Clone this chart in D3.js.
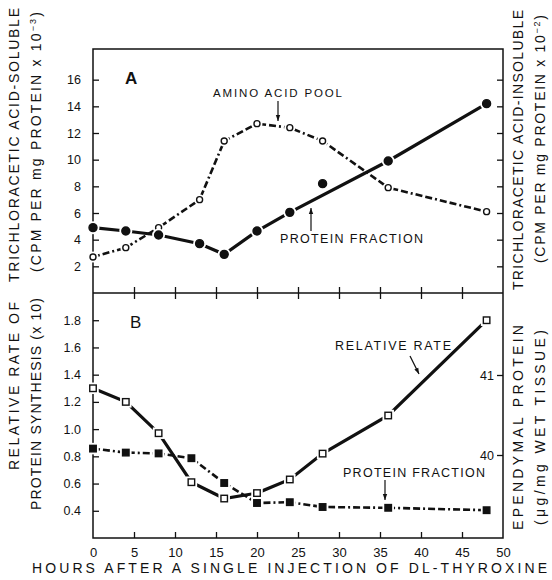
<!DOCTYPE html>
<html>
<head>
<meta charset="utf-8">
<script src="https://cdn.jsdelivr.net/npm/d3@7"></script>
<style>
  body { margin: 0; background: #fff; }
  svg { display: block; font-family: "Liberation Sans", "DejaVu Sans", sans-serif; }
</style>
</head>
<body>
<script>
// panel A : trichloracetic acid soluble pool / insoluble protein fraction
const hoursA = [0, 4, 8, 13, 16, 20, 24, 28, 36, 48];
const aminoPool = [2.7, 3.4, 4.9, 7.0, 11.4, 12.7, 12.4, 11.4, 7.9, 6.1];
const proteinA = [4.9, 4.65, 4.35, 3.7, 2.9, 4.65, 6.05, 8.2, 9.9, 14.2];
const proteinAOnLine = [true, true, true, true, true, true, true, false, true, true];

// panel B : relative rate of synthesis / ependymal protein
const hoursB = [0, 4, 8, 12, 16, 20, 24, 28, 36, 48];
const relRate = [1.30, 1.20, 0.97, 0.61, 0.49, 0.53, 0.63, 0.82, 1.10, 1.80];
const ependymal = [40.08, 40.03, 40.02, 39.96, 39.65, 39.40, 39.41, 39.35, 39.34, 39.31];

const xTicks = [0, 5, 10, 15, 20, 25, 30, 35, 40, 45, 50];
const yTicksA = [2, 4, 6, 8, 10, 12, 14, 16];
const yTicksB = [0.4, 0.6, 0.8, 1.0, 1.2, 1.4, 1.6, 1.8];
const yTicksR = [40, 41];

const W = 552, H = 580;
const svg = d3.select("body").append("svg").attr("width", W).attr("height", H);

const x = d3.scaleLinear().domain([0, 50]).range([93, 503]);
const yA = d3.scaleLinear().domain([0, 18.3]).range([293, 49]);
const yB = d3.scaleLinear().domain([0.2, 2.0]).range([538, 293]);
const yR = d3.scaleLinear().domain([40, 41]).range([455, 375]);

const ink = "#111";

// frame
svg.append("rect").attr("x", 93).attr("y", 49).attr("width", 410).attr("height", 489)
  .attr("fill", "none").attr("stroke", ink).attr("stroke-width", 1.5);
svg.append("line").attr("x1", 93).attr("x2", 503).attr("y1", 293).attr("y2", 293)
  .attr("stroke", ink).attr("stroke-width", 1.5);

function styleAxis(g) {
  g.select(".domain").remove();
  g.selectAll(".tick line").attr("stroke", ink).attr("stroke-width", 1.3);
  g.selectAll(".tick text").attr("fill", ink).attr("font-size", 12.5);
}

// left axes (ticks inward)
svg.append("g").attr("transform", "translate(93,0)")
  .call(d3.axisLeft(yA).tickValues(yTicksA).tickSize(-6).tickPadding(12).tickFormat(d3.format("d")))
  .call(styleAxis);
svg.append("g").attr("transform", "translate(93,0)")
  .call(d3.axisLeft(yB).tickValues(yTicksB).tickSize(-6).tickPadding(12).tickFormat(d3.format(".1f")))
  .call(styleAxis);

// right axes
svg.append("g").attr("transform", "translate(503,0)")
  .call(d3.axisRight(yA).tickValues(yTicksA).tickSize(-6).tickFormat(""))
  .call(styleAxis);
svg.append("g").attr("transform", "translate(503,0)")
  .call(d3.axisLeft(yR).tickValues(yTicksR).tickSize(6).tickPadding(3).tickFormat(d3.format("d")))
  .call(styleAxis);

// x axes
svg.append("g").attr("transform", "translate(0,538)")
  .call(d3.axisBottom(x).tickValues(xTicks).tickSize(-6).tickPadding(10))
  .call(styleAxis)
  .call(g => g.selectAll(".tick text").attr("font-size", 13))
  .call(g => g.selectAll(".tick").filter(d => d === 0 || d === 50).select("line").remove());
svg.append("g").attr("transform", "translate(0,293)")
  .call(d3.axisBottom(x).tickValues(xTicks.slice(1, -1)).tickSize(-6).tickFormat(""))
  .call(styleAxis);
svg.append("g").attr("transform", "translate(0,293)")
  .call(d3.axisBottom(x).tickValues(xTicks.slice(1, -1)).tickSize(6).tickFormat(""))
  .call(styleAxis);

// lines
const dashDot = "7,3,7,3,2,3";
const aminoData = hoursA.map((h, i) => [h, aminoPool[i]]);
const protAData = hoursA.map((h, i) => [h, proteinA[i], proteinAOnLine[i]]);
const relData = hoursB.map((h, i) => [h, relRate[i]]);
const epData = hoursB.map((h, i) => [h, ependymal[i]]);

svg.append("path").datum(aminoData)
  .attr("d", d3.line().x(d => x(d[0])).y(d => yA(d[1])))
  .attr("fill", "none").attr("stroke", ink).attr("stroke-width", 2.6).attr("stroke-dasharray", dashDot);
svg.append("path").datum(protAData.filter(d => d[2]))
  .attr("d", d3.line().x(d => x(d[0])).y(d => yA(d[1])))
  .attr("fill", "none").attr("stroke", ink).attr("stroke-width", 3.2);
svg.append("path").datum(relData)
  .attr("d", d3.line().x(d => x(d[0])).y(d => yB(d[1])))
  .attr("fill", "none").attr("stroke", ink).attr("stroke-width", 3.2);
svg.append("path").datum(epData)
  .attr("d", d3.line().x(d => x(d[0])).y(d => yR(d[1])))
  .attr("fill", "none").attr("stroke", ink).attr("stroke-width", 2.6).attr("stroke-dasharray", dashDot);

// markers with white halos to break the lines
function circles(data, yS, r, filled) {
  const g = svg.append("g");
  g.selectAll(".halo").data(data).join("circle")
    .attr("cx", d => x(d[0])).attr("cy", d => yS(d[1])).attr("r", r + 2.5).attr("fill", "#fff");
  g.selectAll(".m").data(data).join("circle")
    .attr("cx", d => x(d[0])).attr("cy", d => yS(d[1])).attr("r", r)
    .attr("fill", filled ? ink : "#fff").attr("stroke", ink).attr("stroke-width", 1.4);
}
function squares(data, yS, s, filled) {
  const g = svg.append("g");
  g.selectAll(".halo").data(data).join("rect")
    .attr("x", d => x(d[0]) - s / 2 - 2.5).attr("y", d => yS(d[1]) - s / 2 - 2.5)
    .attr("width", s + 5).attr("height", s + 5).attr("fill", "#fff");
  g.selectAll(".m").data(data).join("rect")
    .attr("x", d => x(d[0]) - s / 2).attr("y", d => yS(d[1]) - s / 2)
    .attr("width", s).attr("height", s)
    .attr("fill", filled ? ink : "#fff").attr("stroke", ink).attr("stroke-width", 1.4);
}
circles(aminoData, yA, 3, false);
circles(protAData, yA, 4, true);
squares(relData, yB, 6.5, false);
squares(epData, yR, 6.5, true);

// annotations
function txt(s, tx, ty, size, opts = {}) {
  const t = svg.append("text").attr("x", tx).attr("y", ty).attr("font-size", size)
    .attr("fill", ink).text(s);
  if (opts.bold) t.attr("font-weight", "bold");
  if (opts.anchor) t.attr("text-anchor", opts.anchor);
  if (opts.len) t.attr("textLength", opts.len).attr("lengthAdjust", "spacing");
  if (opts.rot) t.attr("transform", `rotate(-90,${tx},${ty})`);
  return t;
}
function arrow(x1, y1, x2, y2) {
  svg.append("line").attr("x1", x1).attr("y1", y1).attr("x2", x2).attr("y2", y2)
    .attr("stroke", ink).attr("stroke-width", 1.2);
  const a = Math.atan2(y2 - y1, x2 - x1), L = 6, w = 2.2;
  const bx = x2 - L * Math.cos(a), by = y2 - L * Math.sin(a);
  svg.append("path")
    .attr("d", `M${x2},${y2}L${bx - w * Math.sin(a)},${by + w * Math.cos(a)}L${bx + w * Math.sin(a)},${by - w * Math.cos(a)}Z`)
    .attr("fill", ink);
}

txt("A", 125, 84, 17, { bold: true });
txt("B", 130, 328, 17);
txt("AMINO ACID POOL", 213, 97, 11.5, { len: 129 });
arrow(278, 101, 278, 121);
txt("PROTEIN FRACTION", 280, 243, 12.5, { len: 143 });
arrow(311, 231, 311, 208);
txt("RELATIVE RATE", 335, 350, 12.5, { len: 116 });
arrow(410, 356, 419, 374);
txt("PROTEIN FRACTION", 343, 477, 12.5, { len: 142 });
arrow(385, 480, 385, 500);

txt("HOURS AFTER A SINGLE INJECTION OF DL-THYROXINE", 32, 573, 14, { len: 515 });

// axis titles
txt("TRICHLORACETIC ACID-SOLUBLE", 19, 282, 14, { rot: true, len: 274 });
const l2 = txt("(CPM PER mg PROTEIN x 10", 41, 272, 14, { rot: true });
l2.append("tspan").attr("font-size", 9).attr("dy", -5).text("−3");
l2.append("tspan").attr("dy", 5).text(")");
l2.attr("textLength", 260).attr("lengthAdjust", "spacing");
txt("RELATIVE RATE OF", 19, 470, 14, { rot: true, len: 168 });
txt("PROTEIN SYNTHESIS (x 10)", 41, 510, 14, { rot: true, len: 212 });

txt("TRICHLORACETIC ACID-INSOLUBLE", 523, 290, 14, { rot: true, len: 280 });
const r2 = txt("(CPM PER mg PROTEIN x 10", 545, 263, 14, { rot: true });
r2.append("tspan").attr("font-size", 9).attr("dy", -5).text("−2");
r2.append("tspan").attr("dy", 5).text(")");
r2.attr("textLength", 248).attr("lengthAdjust", "spacing");
txt("EPENDYMAL PROTEIN", 523, 530, 14, { rot: true, len: 205 });
txt("(μg/mg WET TISSUE)", 545, 525, 14, { rot: true, len: 195 });
</script>
</body>
</html>
